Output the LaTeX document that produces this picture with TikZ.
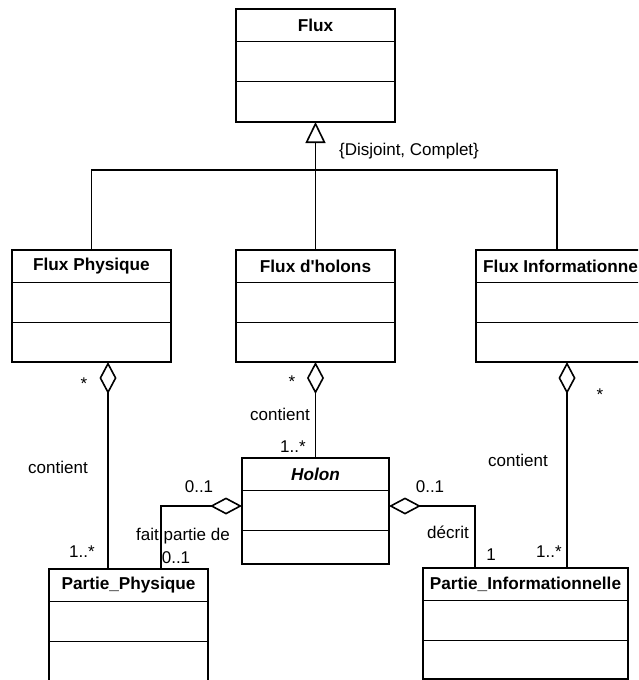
\documentclass[tikz,border=0pt]{standalone}
\usepackage{fontspec}
\setmainfont{Liberation Sans}
\usetikzlibrary{arrows.meta,calc}

\tikzset{
  clsbox/.style={draw, line width=0.8pt, rectangle, outer sep=0pt, inner sep=0pt},
  clsline/.style={line width=0.8pt},
  clstitle/.style={font=\fontsize{8.6pt}{10pt}\selectfont\bfseries, inner sep=0pt},
  lbl/.style={font=\fontsize{8.5pt}{10pt}\selectfont, inner sep=0pt},
  link/.style={line width=0.8pt},
  agg/.style={link, {Diamond[open,length=16pt,width=8.5pt]}-},
  gen/.style={link, -{Triangle[open,length=10.5pt,width=10pt]}},
}

% UML class: name, left, top, width, height, title (pixel units)
\newcommand\umlclass[6]{%
  \node[clsbox, minimum width=#4*0.5pt, minimum height=#5*0.5pt, anchor=north west] (#1) at (#2,#3) {};
  \draw[clsline] ($(#1.north west)+(0,32.5)$) -- ($(#1.north east)+(0,32.5)$);
  \draw[clsline] ($(#1.north west)+(0,72.5)$) -- ($(#1.north east)+(0,72.5)$);
  \node[clstitle] (#1-title) at ($(#1.north)+(0,16.5)$) {#6};
}

\begin{document}
\begin{tikzpicture}[x=0.5pt,y=-0.5pt]
\useasboundingbox (0,0) rectangle (638,680);
\fill[white] (0,0) rectangle (638,680);
\clip (0,0) rectangle (638,680);

% classes
\umlclass{flux}{236}{9}{159}{113}{Flux}
\umlclass{fp}{12}{250}{159}{112}{Flux Physique}
\umlclass{fh}{236}{250}{159}{112}{Flux d\textquotesingle holons}
\umlclass{fi}{476}{250}{174}{112}{Flux Informationnel}
\umlclass{holon}{242}{458}{147}{106}{\itshape Holon}
\umlclass{pp}{49}{569}{159}{120}{Partie\_Physique}
\umlclass{pi}{423}{568}{205}{111}{Partie\_Informationnelle}

% generalization
\coordinate (bar) at (316,170);
\coordinate (fiTop) at (557,250);
\draw[gen] (fh.north) -- (flux.south);
\draw[link] (fp.north) |- (bar) -| (fiTop);
\node[lbl] (constraint) at (409,151) {\{Disjoint, Complet\}};

% aggregations
\draw[agg] ($(fp.south west)+(96,0)$) -- ($(pp.north west)+(59,0)$);
\draw[agg] (fh.south) -- (holon.north);
\draw[agg] ($(fi.south west)+(91,0)$) -- ($(pi.north west)+(144,0)$);
\draw[agg] ($(holon.north west)+(0,48)$) -| ($(pp.north west)+(112,0)$);
\draw[agg] ($(holon.north east)+(0,48)$) -| ($(pi.north west)+(52,0)$);

% multiplicities and roles
\node[lbl] (m1) at (84,384) {*};
\node[lbl] (r1) at (58,467) {contient};
\node[lbl] (m2) at (82,552) {1..*};

\node[lbl] (m3) at (292,382) {*};
\node[lbl] (r2) at (280,414) {contient};
\node[lbl] (m4) at (293,447) {1..*};

\node[lbl] (m5) at (600,395) {*};
\node[lbl] (r3) at (518,460) {contient};
\node[lbl] (m6) at (549,552) {1..*};

\node[lbl] (m7) at (199,487) {0..1};
\node[lbl] (r4) at (183,536) {fait partie de};
\node[lbl] (m8) at (176,558) {0..1};

\node[lbl] (m9) at (430,487) {0..1};
\node[lbl] (r5) at (448,532) {décrit};
\node[lbl] (m10) at (491,555) {1};
\end{tikzpicture}
\end{document}
